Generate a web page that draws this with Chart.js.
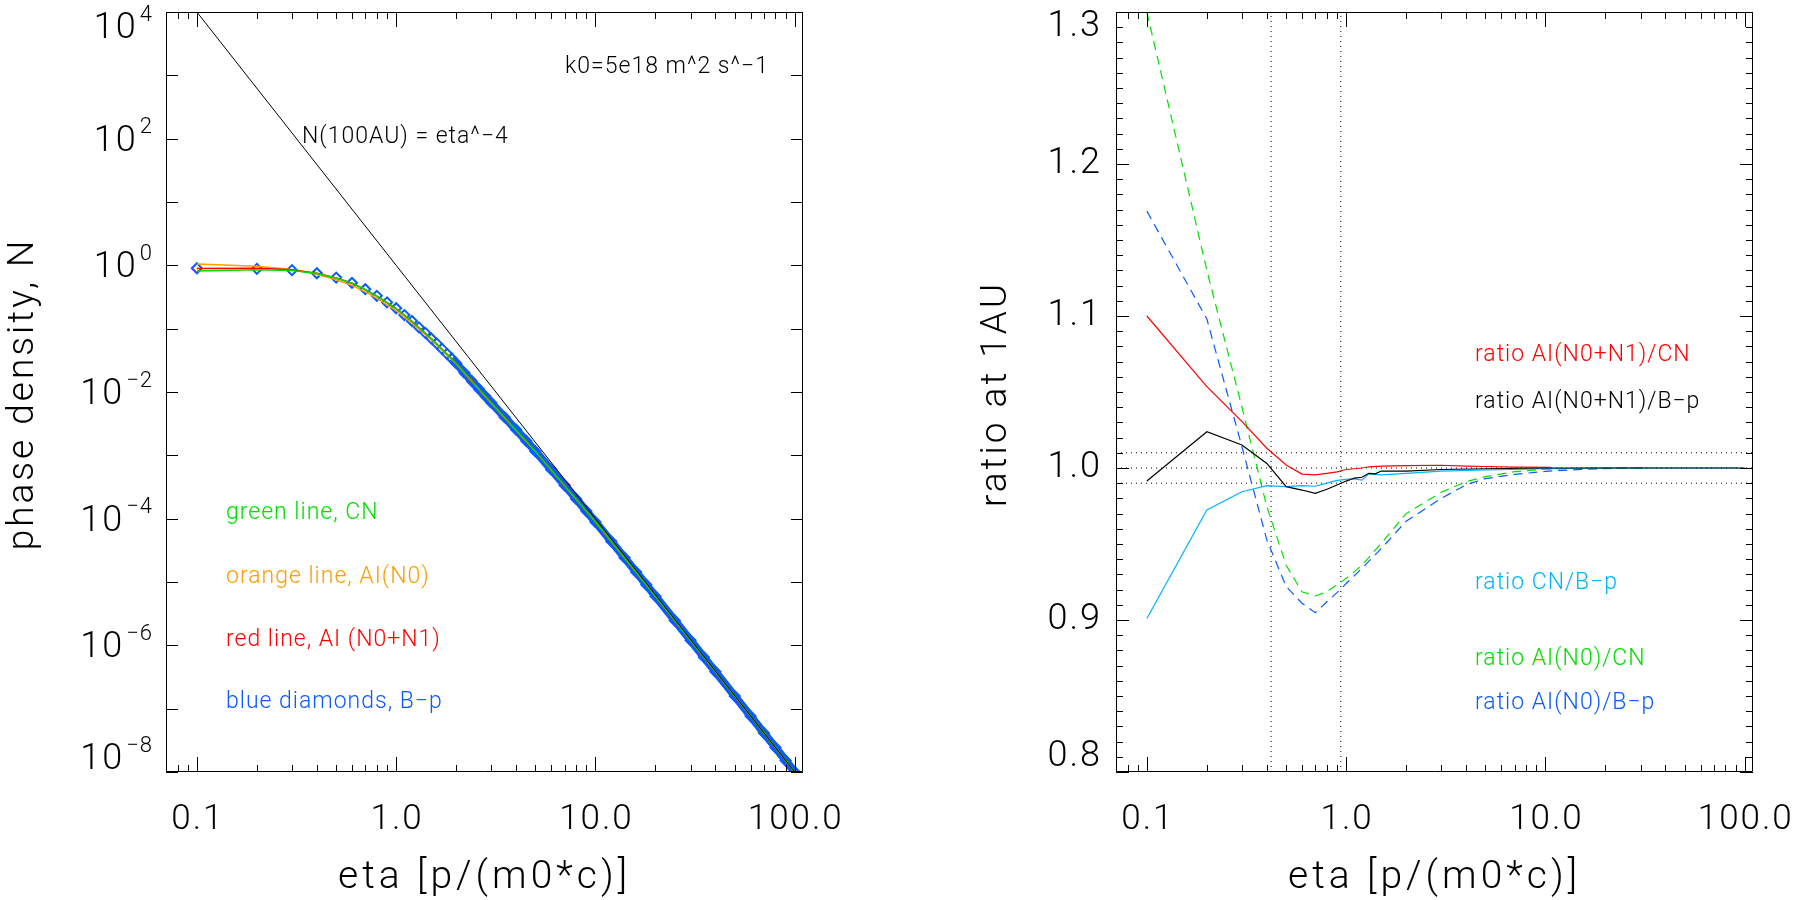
<!DOCTYPE html>
<html>
<head>
<meta charset="utf-8">
<script src="https://cdn.jsdelivr.net/npm/chart.js@4"></script>
<style>
  html, body { margin: 0; padding: 0; background: #fff; overflow: hidden; }
  canvas { position: absolute; top: 0; }
  #left { left: 0; }
  #right { left: 901px; }
</style>
</head>
<body>
<canvas id="left" width="901" height="900"></canvas>
<canvas id="right" width="902" height="900"></canvas>
<script>
// ---- left panel: phase density at 1AU ----
// B-p points (blue diamonds)
const bpEta = [0.1, 0.2, 0.3, 0.4, 0.5, 0.6, 0.7, 0.8, 0.9, 1.0,
  1.1, 1.2, 1.3, 1.4, 1.5, 1.6, 1.7, 1.8, 1.9, 2.0,
  2.2, 2.4, 2.6, 2.8, 3.0, 3.5, 4, 4.5, 5,
  6, 7, 8, 9, 10, 12, 14, 16, 18, 20,
  25, 30, 35, 40, 50, 60, 70, 80, 90, 100];
const bpN = [0.90, 0.88, 0.84, 0.75, 0.64, 0.53, 0.42, 0.33, 0.26, 0.21,
  0.164, 0.132, 0.105, 0.0859, 0.0701, 0.0580, 0.0479, 0.0400, 0.0338, 0.0285,
  0.02006, 0.01477, 0.01116, 0.00862, 0.00679, 0.00400, 0.002539, 0.001683, 0.001152,
  5.94e-4, 3.37e-4, 2.05e-4, 1.318e-4, 8.85e-5, 4.39e-5, 2.421e-5, 1.434e-5, 9.05e-6, 5.97e-6,
  2.470e-6, 1.200e-6, 6.51e-7, 3.83e-7, 1.578e-7, 7.64e-8, 4.14e-8, 2.429e-8, 1.521e-8, 1.0e-8];

// CN, AI(N0), AI(N0+N1) lines
const lineEta = [0.1, 0.2, 0.3, 0.4, 0.5, 0.6, 0.7, 0.8, 0.9, 1.0, 1.2, 1.5, 2, 3, 5, 10, 20, 50, 100];
const cnN = [0.811, 0.855, 0.827, 0.741, 0.632, 0.524, 0.415, 0.327, 0.258, 0.208,
  0.131, 0.0698, 0.0284, 0.00678, 0.001150, 8.85e-5, 5.97e-6, 1.578e-7, 1.0e-8];
const ai0N = [1.054, 0.970, 0.860, 0.722, 0.592, 0.482, 0.380, 0.300, 0.238, 0.193,
  0.1226, 0.0663, 0.0276, 0.00667, 0.001144, 8.84e-5, 5.97e-6, 1.578e-7, 1.0e-8];
const ai01N = [0.892, 0.901, 0.852, 0.751, 0.633, 0.522, 0.413, 0.326, 0.257, 0.208,
  0.131, 0.0699, 0.0285, 0.00680, 0.001152, 8.85e-5, 5.97e-6, 1.578e-7, 1.0e-8];

// N(100AU) = eta^-4
const powEta = [0.1, 1, 10, 100];
const powN = [1e4, 1, 1e-4, 1e-8];

// ---- right panel: ratios at 1AU ----
const redEta = [0.1, 0.2, 0.3, 0.4, 0.5, 0.6, 0.7, 0.8, 0.9, 1.0, 1.1, 1.2, 1.3, 1.5, 2, 3, 4, 5, 7, 10.6];
const redRatio = [1.100, 1.0535, 1.0305, 1.013, 1.002, 0.996, 0.9955, 0.9965, 0.9975, 0.999,
  0.9995, 1.000, 1.0008, 1.0012, 1.0016, 1.0018, 1.0012, 1.001, 1.0006, 1.0005];

const blackEta = [0.1, 0.2, 0.3, 0.4, 0.5, 0.6, 0.7, 0.8, 0.9, 1.0, 1.1, 1.2, 1.3, 1.4, 1.5, 2, 3, 5, 10, 100];
const blackRatio = [0.9914, 1.0239, 1.0151, 1.003, 0.9877, 0.9855, 0.9833, 0.986, 0.9888, 0.9914,
  0.9934, 0.9939, 0.9965, 0.9962, 0.998, 0.998, 0.999, 0.9995, 1.0, 1.0];

const cyanEta = [0.1, 0.2, 0.3, 0.4, 0.5, 0.6, 0.7, 0.8, 0.9, 1.0, 1.1, 1.2, 1.3, 1.5, 2, 3, 5, 10, 20, 93];
const cyanRatio = [0.901, 0.9724, 0.9844, 0.9884, 0.9877, 0.9884, 0.988, 0.990, 0.9919, 0.9925,
  0.9928, 0.992, 0.9961, 0.9955, 0.9965, 0.998, 0.9987, 0.9995, 1.0, 1.0];

const greenEta = [0.1, 0.2, 0.3, 0.4, 0.5, 0.6, 0.7, 0.8, 0.9, 1.0, 1.2, 1.5, 2, 3, 4, 5, 7, 10, 20, 31];
const greenRatio = [1.30, 1.13, 1.040, 0.9746, 0.936, 0.9186, 0.9158, 0.9186, 0.923, 0.9274,
  0.936, 0.9504, 0.970, 0.984, 0.991, 0.9943, 0.9976, 0.9992, 1.0, 1.0];

const blueEta = [0.1, 0.2, 0.3, 0.4, 0.5, 0.6, 0.7, 0.8, 0.9, 1.0, 1.2, 1.5, 2, 3, 4, 5, 7, 10, 13, 20, 31];
const blueRatio = [1.169, 1.098, 1.014, 0.9526, 0.922, 0.911, 0.9048, 0.912, 0.918, 0.924,
  0.934, 0.947, 0.965, 0.980, 0.989, 0.993, 0.9958, 0.9978, 0.9987, 0.9996, 1.0];

// dotted reference lines
const refLevels = [0.99, 1.0, 1.01];
const refEtas = [0.42, 0.94];

// axes
const etaMin = 0.07, etaMax = 110;
const xTicks = [0.1, 1, 10, 100];
const xTickLabels = ["0.1", "1.0", "10.0", "100.0"];
const nExps = [4, 2, 0, -2, -4, -6, -8];
const ratioTicks = [0.8, 0.9, 1.0, 1.1, 1.2, 1.3];
const ratioTickLabels = ["0.8", "0.9", "1.0", "1.1", "1.2", "1.3"];

const GREEN = "#00e000", ORANGE = "#ff9c00", RED = "#ff0000",
  BLUE = "#0a5aff", CYAN = "#00b4ff", BLACK = "#000000";
const FONT = "'Roboto', 'Open Sans', 'DejaVu Sans', sans-serif";

function pts(xs, ys) {
  return xs.map((x, i) => ({ x: x, y: ys[i] }));
}

function setFont(ctx, size, spacing) {
  ctx.font = "300 " + size + "px " + FONT;
  if ("letterSpacing" in ctx) ctx.letterSpacing = spacing + "px";
}

// IDL-style box: inward ticks on all four sides, labels, titles, notes
const idlFrame = {
  id: "idlFrame",
  afterDatasetsDraw(chart, args, o) {
    const { ctx, chartArea: a } = chart;
    const xs = chart.scales.x, ys = chart.scales.y;
    ctx.save();
    ctx.strokeStyle = "#000";
    ctx.fillStyle = "#000";
    ctx.lineWidth = 1;
    ctx.beginPath();
    ctx.rect(a.left + 0.5, a.top + 0.5, a.right - a.left - 1, a.bottom - a.top - 1);

    // x ticks (log)
    const xTick = (v, len) => {
      const px = Math.round(xs.getPixelForValue(v)) + 0.5;
      ctx.moveTo(px, a.bottom); ctx.lineTo(px, a.bottom - len);
      ctx.moveTo(px, a.top); ctx.lineTo(px, a.top + len);
    };
    for (let e = -2; e <= 2; e++) {
      for (let k = 1; k <= 9; k++) {
        const v = k * Math.pow(10, e);
        if (v < xs.min || v > xs.max) continue;
        xTick(v, k === 1 ? 15 : 7);
      }
    }
    // y ticks
    const yTick = (v, len) => {
      const py = Math.round(ys.getPixelForValue(v)) + 0.5;
      ctx.moveTo(a.left, py); ctx.lineTo(a.left + len, py);
      ctx.moveTo(a.right, py); ctx.lineTo(a.right - len, py);
    };
    o.yTicks.forEach(t => yTick(t[0], t[1]));
    ctx.stroke();

    // x tick labels
    setFont(ctx, 35, 2);
    ctx.textAlign = "center";
    ctx.textBaseline = "middle";
    xTicks.forEach((v, i) => {
      ctx.fillText(xTickLabels[i], xs.getPixelForValue(v) + 1, a.bottom + 48);
    });

    // y tick labels, kept inside the box height like IDL does
    const clampY = (py, lo, hi) => Math.min(Math.max(py, a.top + lo), a.bottom - hi);
    if (o.logLabels) {
      nExps.forEach(e => {
        const py = clampY(ys.getPixelForValue(Math.pow(10, e)) + 3, 17, 12);
        const exp = e < 0 ? "\u2212" + (-e) : String(e);
        setFont(ctx, 22, 1);
        ctx.textAlign = "right";
        ctx.textBaseline = "middle";
        const right = a.left - 13;
        ctx.fillText(exp, right, py - 14);
        const ew = ctx.measureText(exp).width;
        setFont(ctx, 36, 2);
        ctx.fillText("10", right - ew - 2, py);
      });
    } else {
      setFont(ctx, 36, 2);
      ctx.textAlign = "right";
      ctx.textBaseline = "middle";
      ratioTicks.forEach((v, i) => {
        const py = clampY(ys.getPixelForValue(v), 15, 15);
        ctx.fillText(ratioTickLabels[i], a.left - 14, py);
      });
    }

    // axis titles
    setFont(ctx, 39, 4);
    ctx.textAlign = "center";
    ctx.textBaseline = "alphabetic";
    ctx.fillText(o.xTitle, (a.left + a.right) / 2, 888);
    setFont(ctx, 37, o.yTitleSpacing);
    ctx.save();
    ctx.translate(o.yTitleX, (a.top + a.bottom) / 2 + 2);
    ctx.rotate(-Math.PI / 2);
    ctx.fillText(o.yTitle, 0, 0);
    ctx.restore();

    // annotations
    setFont(ctx, 23, 1);
    ctx.textAlign = "left";
    ctx.textBaseline = "middle";
    o.notes.forEach(n => {
      ctx.fillStyle = n.color;
      ctx.fillText(n.text, n.x, n.y);
    });
    ctx.restore();
  }
};

// ---------------- left chart ----------------
const leftYTicks = [];
for (let e = -8; e <= 4; e++) leftYTicks.push([Math.pow(10, e), 12]);

new Chart(document.getElementById("left"), {
  type: "scatter",
  data: {
    datasets: [
      { data: pts(powEta, powN), showLine: true, borderColor: BLACK, borderWidth: 1, pointRadius: 0 },
      { data: pts(lineEta, cnN), showLine: true, borderColor: GREEN, borderWidth: 1.5, pointRadius: 0 },
      { data: pts(lineEta, ai01N), showLine: true, borderColor: RED, borderWidth: 1.5, pointRadius: 0 },
      { data: pts(lineEta, ai0N), showLine: true, borderColor: ORANGE, borderWidth: 1.5, pointRadius: 0 },
      {
        data: pts(bpEta, bpN), showLine: true, borderWidth: 8, borderColor: BLUE,
        segment: { borderColor: c => (c.p0.parsed.x >= 1.9 ? BLUE : "rgba(0,0,0,0)") },
        pointStyle: "rectRot", pointRadius: 5, pointBorderWidth: 2,
        pointBorderColor: BLUE, pointBackgroundColor: "rgba(0,0,0,0)"
      }
    ]
  },
  options: {
    responsive: false,
    animation: false,
    events: [],
    layout: { padding: { left: 166, top: 12, right: 98, bottom: 128 } },
    datasets: { scatter: { clip: 0 } },
    scales: {
      x: { type: "logarithmic", min: etaMin, max: etaMax, display: false },
      y: { type: "logarithmic", min: 1e-8, max: 1e4, display: false }
    },
    plugins: {
      legend: { display: false },
      tooltip: { enabled: false },
      idlFrame: {
        logLabels: true,
        yTicks: leftYTicks,
        xTitle: "eta [p/(m0*c)]",
        yTitle: "phase density, N",
        yTitleX: 33,
        yTitleSpacing: 3,
        notes: [
          { text: "k0=5e18 m^2 s^\u22121", x: 565, y: 67, color: BLACK },
          { text: "N(100AU) = eta^\u22124", x: 302, y: 137, color: BLACK },
          { text: "green line, CN", x: 226, y: 513, color: GREEN },
          { text: "orange line, AI(N0)", x: 226, y: 577, color: ORANGE },
          { text: "red line, AI (N0+N1)", x: 226, y: 640, color: RED },
          { text: "blue diamonds, B\u2212p", x: 226, y: 702, color: BLUE }
        ]
      }
    }
  },
  plugins: [idlFrame]
});

// ---------------- right chart ----------------
const rightYTicks = [];
for (let i = 80; i <= 130; i++) rightYTicks.push([i / 100, i % 10 === 0 ? 13 : 7]);

const dotted = { showLine: true, borderColor: BLACK, borderWidth: 1, borderDash: [1, 4], pointRadius: 0 };
const refSets = refLevels.map(r => Object.assign({ data: pts([etaMin, etaMax], [r, r]) }, dotted))
  .concat(refEtas.map(e => Object.assign({ data: pts([e, e], [0.8, 1.3]) }, dotted)));

new Chart(document.getElementById("right"), {
  type: "scatter",
  data: {
    datasets: [
      { data: pts(blackEta, blackRatio), showLine: true, borderColor: BLACK, borderWidth: 1.2, pointRadius: 0 },
      { data: pts(redEta, redRatio), showLine: true, borderColor: RED, borderWidth: 1.2, pointRadius: 0 },
      { data: pts(cyanEta, cyanRatio), showLine: true, borderColor: CYAN, borderWidth: 1.2, pointRadius: 0 },
      { data: pts(greenEta, greenRatio), showLine: true, borderColor: GREEN, borderWidth: 1.2, borderDash: [9, 6], pointRadius: 0 },
      { data: pts(blueEta, blueRatio), showLine: true, borderColor: BLUE, borderWidth: 1.2, borderDash: [9, 6], pointRadius: 0 }
    ].concat(refSets)
  },
  options: {
    responsive: false,
    animation: false,
    events: [],
    layout: { padding: { left: 215, top: 12, right: 50, bottom: 128 } },
    datasets: { scatter: { clip: 0 } },
    scales: {
      x: { type: "logarithmic", min: etaMin, max: etaMax, display: false },
      y: { type: "linear", min: 0.8, max: 1.3, display: false }
    },
    plugins: {
      legend: { display: false },
      tooltip: { enabled: false },
      idlFrame: {
        logLabels: false,
        yTicks: rightYTicks,
        xTitle: "eta [p/(m0*c)]",
        yTitle: "ratio at 1AU",
        yTitleX: 105,
        yTitleSpacing: 3,
        notes: [
          { text: "ratio AI(N0+N1)/CN", x: 574, y: 355, color: RED },
          { text: "ratio AI(N0+N1)/B\u2212p", x: 574, y: 402, color: BLACK },
          { text: "ratio CN/B\u2212p", x: 574, y: 583, color: CYAN },
          { text: "ratio AI(N0)/CN", x: 574, y: 659, color: GREEN },
          { text: "ratio AI(N0)/B\u2212p", x: 574, y: 703, color: BLUE }
        ]
      }
    }
  },
  plugins: [idlFrame]
});
</script>
</body>
</html>
